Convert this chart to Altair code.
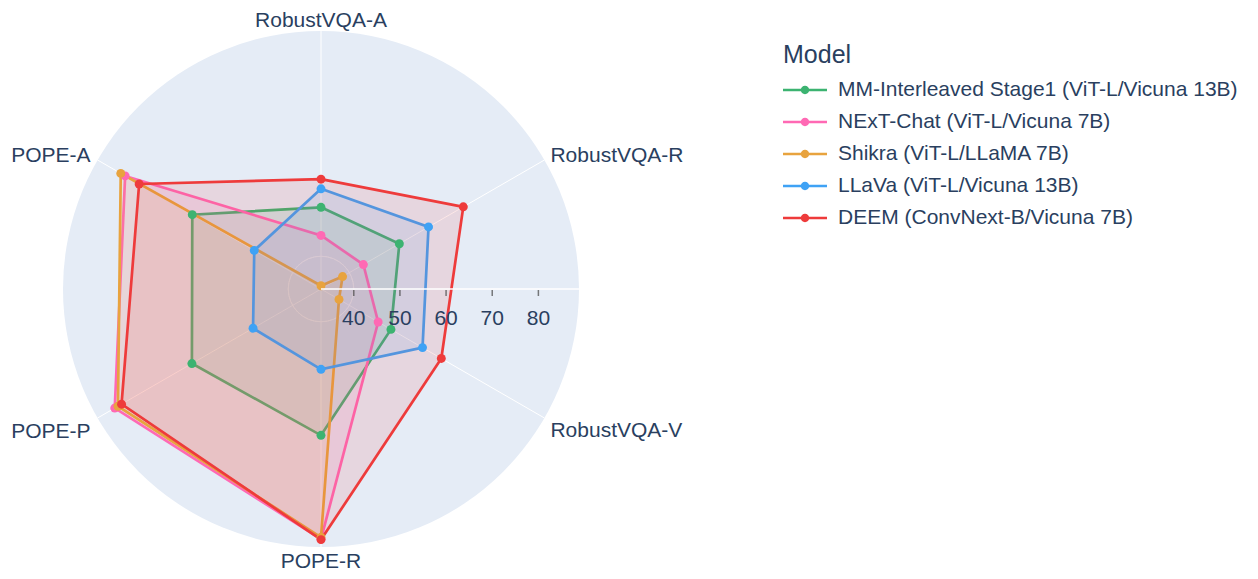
import altair as alt
import pandas as pd

categories = ["RobustVQA-A", "RobustVQA-R", "RobustVQA-V", "POPE-R", "POPE-P", "POPE-A"]
models = [
    "MM-Interleaved Stage1 (ViT-L/Vicuna 13B)",
    "NExT-Chat (ViT-L/Vicuna 7B)",
    "Shikra (ViT-L/LLaMA 7B)",
    "LLaVa (ViT-L/Vicuna 13B)",
    "DEEM (ConvNext-B/Vicuna 7B)",
]
colors = ["#3CB371", "#FF69B4", "#E8A33E", "#3FA2F5", "#EE3B3B"]

mm_interleaved = [50.6, 52.5, 50.4, 64.6, 65.2, 65.1]
next_chat = [44.5, 43.5, 47.2, 87.1, 84.5, 81.9]
shikra = [33.6, 38.3, 37.4, 86.7, 83.7, 83.0]
llava = [54.6, 59.8, 58.3, 50.3, 49.9, 49.6]
deem = [56.7, 68.5, 63.0, 87.2, 82.8, 78.4]
series = [mm_interleaved, next_chat, shikra, llava, deem]

radial_ticks = [40, 50, 60, 70, 80]
r_min, r_max = 32.9, 88.8
R = r_max - r_min
RPX = 258
FONT = "Liberation Sans"
TXT = "#2a3f5f"

rows = []
for m, vals in zip(models, series):
    for i, (c, v) in enumerate(zip(categories, vals)):
        rows.append({"model": m, "category": c, "idx": i, "value": v})
df = pd.DataFrame(rows)
cat_df = pd.DataFrame({"category": categories, "idx": list(range(len(categories))), "value": [r_max] * len(categories)})
tick_df = pd.DataFrame({"value": radial_ticks})
disc_df = pd.DataFrame({"value": [r_max]})

xs = alt.Scale(domain=[-R, R], nice=False, zero=False)
ys = alt.Scale(domain=[-R, R], nice=False, zero=False)
X = lambda f: alt.X(f, type="quantitative", scale=xs, axis=None)
Y = lambda f: alt.Y(f, type="quantitative", scale=ys, axis=None)
rscale = alt.Scale(type="linear", domain=[r_min, r_max], range=[0, RPX], zero=False, nice=False)

polar = {
    "px": f"(datum.value - {r_min}) * sin(datum.idx * PI / 3)",
    "py": f"(datum.value - {r_min}) * cos(datum.idx * PI / 3)",
}

disc = alt.Chart(disc_df).mark_arc(fill="#E5ECF6", theta=0, theta2=6.2832).encode(
    x=alt.value(RPX), y=alt.value(RPX), radius=alt.Radius("value:Q", scale=rscale)
)
grid = alt.Chart(tick_df).mark_arc(filled=False, stroke="white", strokeWidth=1, theta=0, theta2=6.2832).encode(
    x=alt.value(RPX), y=alt.value(RPX), radius=alt.Radius("value:Q", scale=rscale)
)
spokes = alt.Chart(cat_df).transform_calculate(**polar, zero="0").mark_rule(color="white", strokeWidth=1).encode(
    x=X("zero"), y=Y("zero"), x2="px:Q", y2="py:Q"
)

cscale = alt.Scale(domain=models, range=colors)
legend_path = "M-1,-0.06 L1,-0.06 L1,0.06 L-1,0.06 Z M-0.19,0 A0.19,0.19 0 1,1 0.19,0 A0.19,0.19 0 1,1 -0.19,0 Z"
legend = alt.Legend(
    title="Model", orient="none", legendX=720, legendY=12,
    symbolType=legend_path, symbolSize=1936, symbolStrokeWidth=0, symbolOpacity=1,
    labelFont=FONT, labelFontSize=21, labelColor=TXT, labelOffset=11, labelLimit=600,
    titleFont=FONT, titleFontSize=25, titleFontWeight="normal", titleColor=TXT, titlePadding=0,
    rowPadding=-10, padding=0,
)
base = alt.Chart(df).transform_calculate(**polar)
areas = base.mark_line(interpolate="linear-closed", strokeWidth=2.7, fillOpacity=0.12).encode(
    x=X("px"), y=Y("py"),
    color=alt.Color("model:N", scale=cscale, sort=models, legend=legend),
    fill=alt.Fill("model:N", scale=cscale, legend=None),
    order=alt.Order("idx:Q"),
    detail="model:N",
)
points = base.mark_point(filled=True, size=80, opacity=1).encode(
    x=X("px"), y=Y("py"),
    color=alt.Color("model:N", scale=cscale, sort=models, legend=legend),
)

axis_line = alt.Chart(disc_df).transform_calculate(zero="0", end=f"datum.value - {r_min}").mark_rule(
    color="white", strokeWidth=1.5
).encode(x=X("zero"), y=Y("zero"), x2="end:Q", y2="zero:Q")
tick_base = alt.Chart(tick_df).transform_calculate(tx=f"datum.value - {r_min}", zero="0")
tick_marks = tick_base.mark_tick(orient="vertical", size=6, thickness=1.5, color="#444444", yOffset=4).encode(
    x=X("tx"), y=Y("zero")
)
tick_labels = tick_base.mark_text(font=FONT, fontSize=21, color=TXT, baseline="alphabetic", dy=36).encode(
    x=X("tx"), y=Y("zero"), text=alt.Text("value:Q")
)

label_specs = {
    "RobustVQA-A": dict(align="center", dx=0, dy=-4),
    "RobustVQA-R": dict(align="left", dx=6, dy=2),
    "RobustVQA-V": dict(align="left", dx=6, dy=19),
    "POPE-R": dict(align="center", dx=0, dy=21),
    "POPE-P": dict(align="right", dx=-7, dy=20),
    "POPE-A": dict(align="right", dx=-7, dy=2),
}
cat_base = alt.Chart(cat_df).transform_calculate(**polar)
labels = [
    cat_base.transform_filter(alt.datum.category == c).mark_text(
        font=FONT, fontSize=21, color=TXT, baseline="alphabetic", **spec
    ).encode(x=X("px"), y=Y("py"), text="category:N")
    for c, spec in label_specs.items()
]

chart = alt.layer(disc, grid, spokes, areas, points, axis_line, tick_marks, tick_labels, *labels).properties(
    width=2 * RPX, height=2 * RPX,
    autosize=alt.AutoSizeParams(type="none"),
    padding={"left": 55, "top": 23, "right": 671, "bottom": 24},
    background="white",
).configure_view(strokeWidth=0, stroke="transparent")

chart.save("out.html", embed_options={"renderer": "svg", "actions": False})
